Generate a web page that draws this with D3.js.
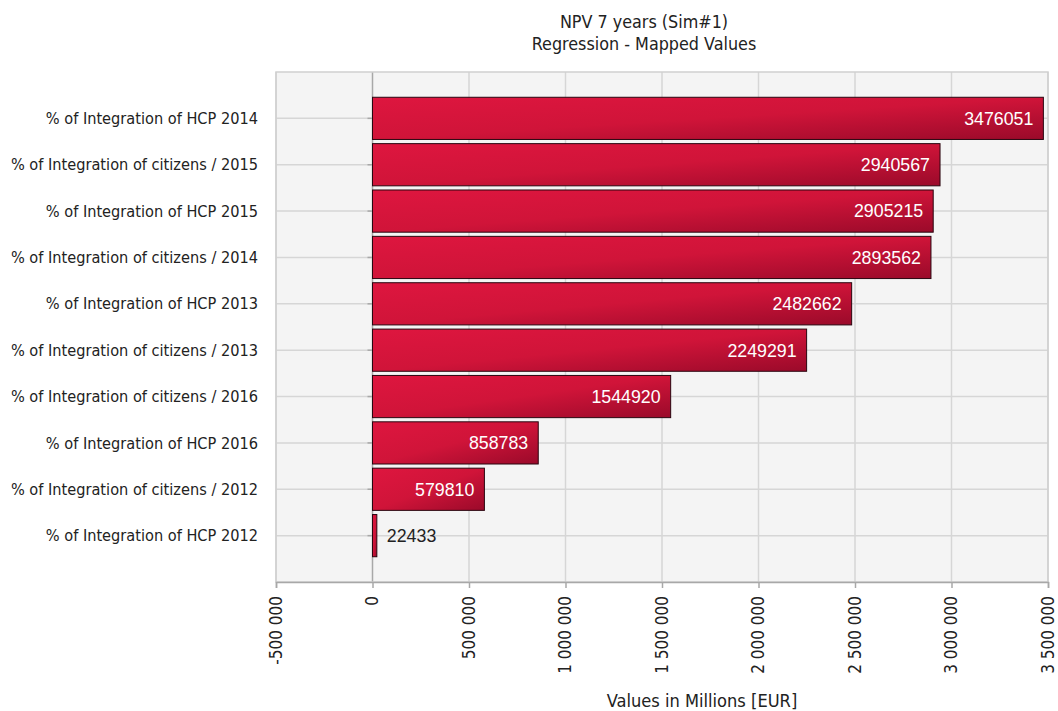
<!DOCTYPE html>
<html><head><meta charset="utf-8">
<script src="https://cdn.jsdelivr.net/npm/d3@7"></script>
<style>body{margin:0;background:#fff}svg{display:block}</style>
</head><body>
<script>
const categories = [
  "% of Integration of HCP 2014",
  "% of Integration of citizens / 2015",
  "% of Integration of HCP 2015",
  "% of Integration of citizens / 2014",
  "% of Integration of HCP 2013",
  "% of Integration of citizens / 2013",
  "% of Integration of citizens / 2016",
  "% of Integration of HCP 2016",
  "% of Integration of citizens / 2012",
  "% of Integration of HCP 2012"
];
const values = [3476051, 2940567, 2905215, 2893562, 2482662, 2249291, 1544920, 858783, 579810, 22433];
const xTicks = [-500000, 0, 500000, 1000000, 1500000, 2000000, 2500000, 3000000, 3500000];
const title1 = "NPV 7 years (Sim#1)";
const title2 = "Regression - Mapped Values";
const xTitle = "Values in Millions [EUR]";

(function () {
const W = 1058, H = 711;
const pL = 276, pR = 1048, pT = 72, pB = 582;
const font = "'DejaVu Sans Condensed', 'DejaVu Sans', sans-serif";

const svg = d3.select("body").append("svg").attr("width", W).attr("height", H);
const defs = svg.append("defs");
const grad = defs.append("linearGradient").attr("id", "barGrad")
  .attr("x1", 0).attr("y1", 0).attr("x2", 1).attr("y2", 1);
grad.append("stop").attr("offset", "0%").attr("stop-color", "#de163f");
grad.append("stop").attr("offset", "50%").attr("stop-color", "#d01439");
grad.append("stop").attr("offset", "100%").attr("stop-color", "#9a0a2a");

const x = d3.scaleLinear().domain([-500000, 3500000]).range([pL, pR]);
const y = d3.scalePoint().domain(categories).range([pT, pB]).padding(1);
const step = y.step();
const barH = step * 0.91;

svg.append("rect").attr("x", pL).attr("y", pT).attr("width", pR - pL).attr("height", pB - pT)
  .attr("fill", "#f4f4f4");

svg.append("g").selectAll("line").data(xTicks).join("line")
  .attr("x1", d => x(d)).attr("x2", d => x(d)).attr("y1", pT).attr("y2", pB)
  .attr("stroke", d => d === 0 ? "#a8a8a8" : "#d6d6d6").attr("stroke-width", 1.5);

svg.append("g").selectAll("line").data(categories).join("line")
  .attr("x1", pL).attr("x2", pR).attr("y1", d => y(d)).attr("y2", d => y(d))
  .attr("stroke", "#d6d6d6").attr("stroke-width", 1.5);

svg.append("rect").attr("x", pL).attr("y", pT).attr("width", pR - pL).attr("height", pB - pT)
  .attr("fill", "none").attr("stroke", "#cfcfcf").attr("stroke-width", 1.5);

svg.append("g").selectAll("line").data(categories).join("line")
  .attr("x1", x(0) - 5).attr("x2", x(0)).attr("y1", d => y(d)).attr("y2", d => y(d))
  .attr("stroke", "#a8a8a8").attr("stroke-width", 1.5);

const xAxis = d3.axisBottom(x).tickValues(xTicks).tickSize(6).tickPadding(8)
  .tickFormat(d => d3.format(",")(d).replace(/,/g, " ").replace("\u2212", "-"));
const gx = svg.append("g").attr("transform", `translate(0,${pB})`).call(xAxis);
gx.select(".domain").attr("stroke", "#a8a8a8").attr("stroke-width", 1.5);
gx.selectAll(".tick line").attr("stroke", "#a8a8a8").attr("stroke-width", 1.5);
gx.selectAll(".tick text")
  .attr("font-family", font).attr("font-size", 17).attr("fill", "#222")
  .attr("transform", "rotate(-90)")
  .attr("text-anchor", "end").attr("dy", "0.3em")
  .attr("x", -14).attr("y", 0);

svg.append("g").selectAll("rect").data(values).join("rect")
  .attr("x", d => x(Math.min(0, d)))
  .attr("y", (d, i) => y(categories[i]) - barH / 2)
  .attr("width", d => Math.abs(x(d) - x(0)))
  .attr("height", barH)
  .attr("fill", "url(#barGrad)")
  .attr("stroke", "#2a0610").attr("stroke-width", 1);

const inside = d => (x(d) - x(0) > 90);
svg.append("g").selectAll("text").data(values).join("text")
  .attr("x", d => inside(d) ? x(d) - 10 : x(d) + 10)
  .attr("y", (d, i) => y(categories[i]))
  .attr("dy", "0.36em")
  .attr("text-anchor", d => inside(d) ? "end" : "start")
  .attr("font-family", "'Liberation Sans', Arial, sans-serif").attr("font-size", 17.8)
  .attr("fill", d => inside(d) ? "#fff" : "#222")
  .text(d => d);

svg.append("g").selectAll("text").data(categories).join("text")
  .attr("x", 258).attr("y", d => y(d)).attr("dy", "0.35em")
  .attr("text-anchor", "end").attr("font-family", font).attr("font-size", 16.2).attr("fill", "#222")
  .text(d => d);

svg.append("text").attr("x", 644).attr("y", 28).attr("text-anchor", "middle")
  .attr("font-family", font).attr("font-size", 17.8).attr("fill", "#222").text(title1);
svg.append("text").attr("x", 644).attr("y", 50).attr("text-anchor", "middle")
  .attr("font-family", font).attr("font-size", 17.8).attr("fill", "#222").text(title2);
svg.append("text").attr("x", 702).attr("y", 707).attr("text-anchor", "middle")
  .attr("font-family", font).attr("font-size", 18.1).attr("fill", "#222").text(xTitle);
})();
</script>
</body></html>
